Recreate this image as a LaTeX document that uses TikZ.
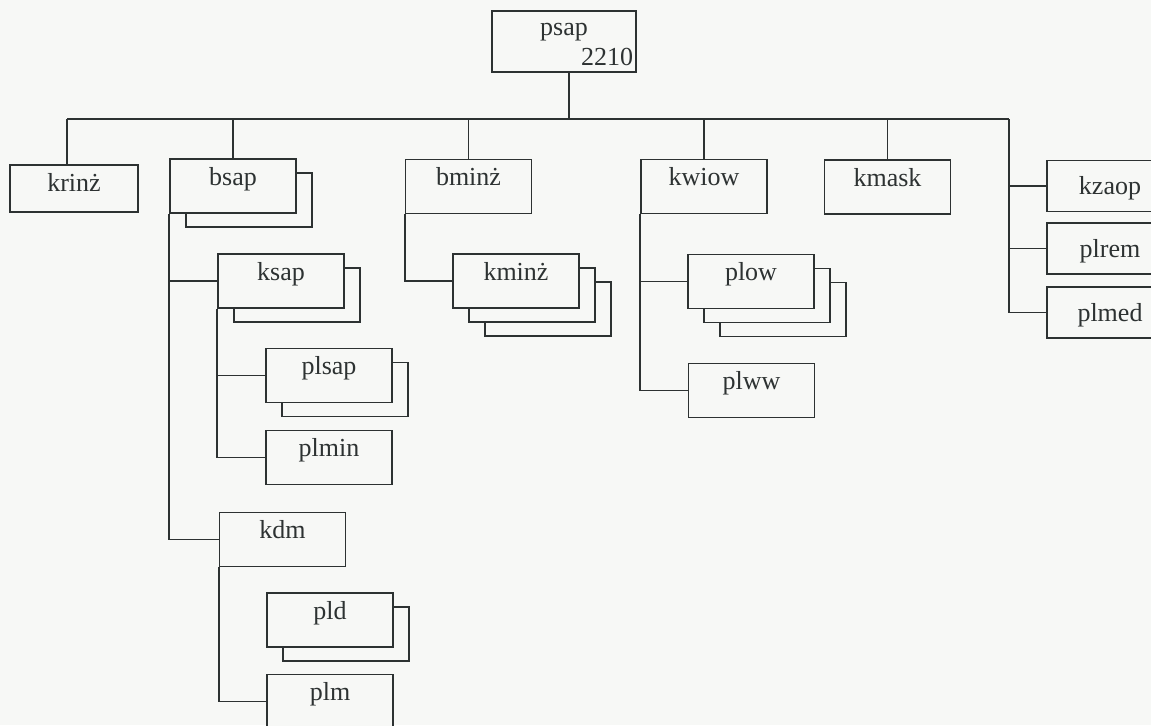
\documentclass[tikz,border=0pt]{standalone}
\usepackage{fontspec}
\setmainfont{Liberation Serif}
\usetikzlibrary{shadows}
\definecolor{paper}{RGB}{247,248,246}
\definecolor{ink}{RGB}{45,50,50}
\begin{document}
\begin{tikzpicture}[x=0.5pt,y=-0.5pt,line width=0.8pt,color=ink,
    font=\fontsize{13}{15}\selectfont,
    box/.style={draw,fill=paper,inner sep=0pt,minimum width=63pt,
      text height=13pt,text depth=14pt},
    side/.style={text height=17pt,text depth=8.5pt},
    copy1/.style={copy shadow={shadow xshift=8pt,shadow yshift=-7pt,draw=ink,fill=paper}},
    copy2/.style={copy shadow={shadow xshift=16pt,shadow yshift=-14pt,draw=ink,fill=paper},copy1},
    elbow/.style={to path={|- (\tikztotarget)}}]

      \useasboundingbox (0,0) rectangle (1151,725);
      \fill[paper] (0,0) rectangle (1151,725);

      \begin{scope}[every node/.style={box}]
        \node[minimum width=72pt,text height=12pt,text depth=18.5pt] (psap) at (564,41.5) {psap};
        \node[minimum width=64pt,text depth=10.5pt] (krinz) at (74,188.5) {krinż};
        \node[copy1] (bsap)  at (233,186)    {bsap};
        \node (bminz) at (468.5,186.5) {bminż};
        \node (kwiow) at (704,186.5)   {kwiow};
        \node (kmask) at (887.5,187)   {kmask};
        \node[side] (kzaop) at (1110,186)   {kzaop};
        \node[side] (plrem) at (1110,248.5) {plrem};
        \node[side] (plmed) at (1110,312.5) {plmed};
        \node[copy1] (ksap)  at (281,281)    {ksap};
        \node[copy1] (plsap) at (329,375.5)  {plsap};
        \node (plmin) at (329,457.5)  {plmin};
        \node (kdm)   at (282.5,539.5) {kdm};
        \node[copy1] (pld)   at (330,620)    {pld};
        \node (plm)   at (330,701.5)  {plm};
        \node[copy2] (kminz) at (516,281)    {kminż};
        \node[copy2] (plow)  at (751,281.5)  {plow};
        \node (plww)  at (751.5,390.5) {plww};
      \end{scope}

      \node[anchor=base east,inner sep=0pt] (psapno) at (634,65) {2210};

      \coordinate (busL) at (67,119);
      \coordinate (busR) at (1009,119);
      \coordinate (busM) at (569,119);

      \begin{scope}[every edge/.style={draw}]
        \path (busM) edge (busM |- psap.south);
        \path (busL) edge (busR);
        \path (busL) edge (busL |- krinz.north);
        \foreach \n in {bsap,bminz,kwiow,kmask}
          \path (busL -| \n.north) edge (\n.north);
        \foreach \n in {kzaop,plrem,plmed}
          \path (busR) edge[elbow] (\n.west);
        \path (bsap.south west)  edge[elbow] (ksap.west);
        \path (bsap.south west)  edge[elbow] (kdm.west);
        \path (ksap.south west)  edge[elbow] (plsap.west);
        \path (ksap.south west)  edge[elbow] (plmin.west);
        \path (kdm.south west)   edge[elbow] (plm.west);
        \path (bminz.south west) edge[elbow] (kminz.west);
        \path (kwiow.south west) edge[elbow] (plow.west);
        \path (kwiow.south west) edge[elbow] (plww.west);
      \end{scope}

    \end{tikzpicture}
\end{document}
